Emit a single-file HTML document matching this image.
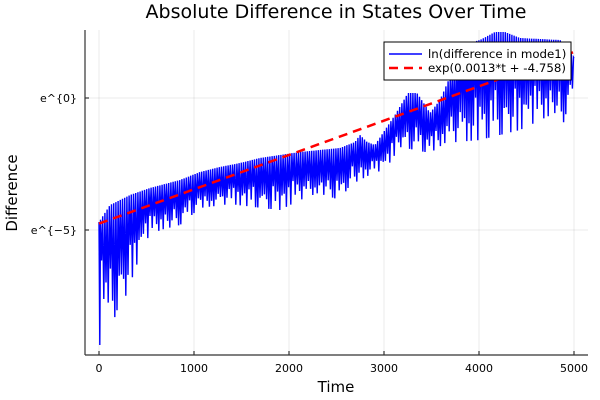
<!DOCTYPE html>
<html><head><meta charset="utf-8"><style>
body{margin:0;background:#fff}
svg{display:block;font-family:"DejaVu Sans","Liberation Sans",sans-serif}
</style></head><body>
<svg id="s" width="600" height="400" xmlns="http://www.w3.org/2000/svg">
<rect width="600" height="400" fill="#fff"/>
<g stroke="#000" stroke-opacity="0.08" stroke-width="1">
<line x1="99" y1="30" x2="99" y2="355"/><line x1="194" y1="30" x2="194" y2="355"/>
<line x1="289" y1="30" x2="289" y2="355"/><line x1="384" y1="30" x2="384" y2="355"/>
<line x1="479" y1="30" x2="479" y2="355"/><line x1="574" y1="30" x2="574" y2="355"/>
<line x1="85" y1="98" x2="588" y2="98"/><line x1="85" y1="230" x2="588" y2="230"/>
</g>
<polyline id="blue" fill="none" stroke="#0000ff" stroke-width="1.4" points=""/>
<line x1="99" y1="223.6" x2="574" y2="52" stroke="#ff0000" stroke-width="2.5" stroke-dasharray="9,6"/>
<g stroke="#333" stroke-width="1.2">
<line x1="85" y1="30" x2="85" y2="355"/><line x1="85" y1="355" x2="588" y2="355"/>
<line x1="99" y1="355" x2="99" y2="351"/><line x1="194" y1="355" x2="194" y2="351"/>
<line x1="289" y1="355" x2="289" y2="351"/><line x1="384" y1="355" x2="384" y2="351"/>
<line x1="479" y1="355" x2="479" y2="351"/><line x1="574" y1="355" x2="574" y2="351"/>
<line x1="85" y1="98" x2="89" y2="98"/><line x1="85" y1="230" x2="89" y2="230"/>
</g>
<g font-size="11" fill="#000" text-anchor="middle">
<text x="99" y="372">0</text><text x="194" y="372">1000</text><text x="289" y="372">2000</text>
<text x="384" y="372">3000</text><text x="479" y="372">4000</text><text x="574" y="372">5000</text>
</g>
<g font-size="11" fill="#000" text-anchor="end">
<text x="77" y="102">e^{0}</text><text x="77" y="234">e^{−5}</text>
</g>
<text x="336" y="392" font-size="15" text-anchor="middle">Time</text>
<text x="17" y="193" font-size="15" text-anchor="middle" transform="rotate(-90 17 193)">Difference</text>
<text x="336" y="18" font-size="19" text-anchor="middle">Absolute Difference in States Over Time</text>
<rect x="384" y="42" width="187" height="38" fill="#fff" stroke="#000" stroke-width="1"/>
<line x1="389" y1="54" x2="422" y2="54" stroke="#0000ff" stroke-width="1.5"/>
<line x1="389" y1="68" x2="422" y2="68" stroke="#ff0000" stroke-width="2.5" stroke-dasharray="9,6"/>
<text x="428" y="58" font-size="11.8">ln(difference in mode1)</text>
<text x="428" y="72" font-size="11.8">exp(0.0013*t + -4.758)</text>
</svg>
<script>
var U=[[99,222],[110,205],[130,195],[150,188],[180,180],[200,172],[220,167],[240,163],[260,158],[280,155],[300,152],[320,150],[340,148],[355,142],[360,135],[367,142],[375,145],[395,115],[408,93],[417,93],[425,105],[430,113],[440,100],[453,70],[462,45],[480,40],[495,32],[505,32],[520,38],[560,40],[568,48],[574,58]];
var L=[[99,345],[101,250],[105,320],[110,320],[115,317],[120,300],[125,298],[135,270],[145,240],[160,230],[180,225],[200,208],[230,204],[262,208],[280,210],[300,200],[318,193],[340,200],[350,185],[360,180],[373,173],[385,170],[400,147],[415,150],[430,153],[445,143],[480,140],[520,130],[555,113],[562,128],[567,110],[572,95]];
function f(a,x){for(var i=1;i<a.length;i++){if(x<=a[i][0]){var p=a[i-1],q=a[i],t=(x-p[0])/(q[0]-p[0]);return p[1]+t*(q[1]-p[1]);}}return a[a.length-1][1];}
var pts=["99,222","99.8,345"];var x=100.5,k=0;
while(x<=574){var u=f(U,x),l=f(L,x);var y;
if(k%2==0)y=u;else{var r=(k%7==1||k%5==3)?1:0.55+0.3*Math.abs(Math.sin(k*0.7));y=u+(l-u)*r;}
pts.push(x.toFixed(1)+","+y.toFixed(1));x+=1.1;k++;}
pts.push("574,"+f(U,574));
document.getElementById("blue").setAttribute("points",pts.join(" "));
</script>
</body></html>
